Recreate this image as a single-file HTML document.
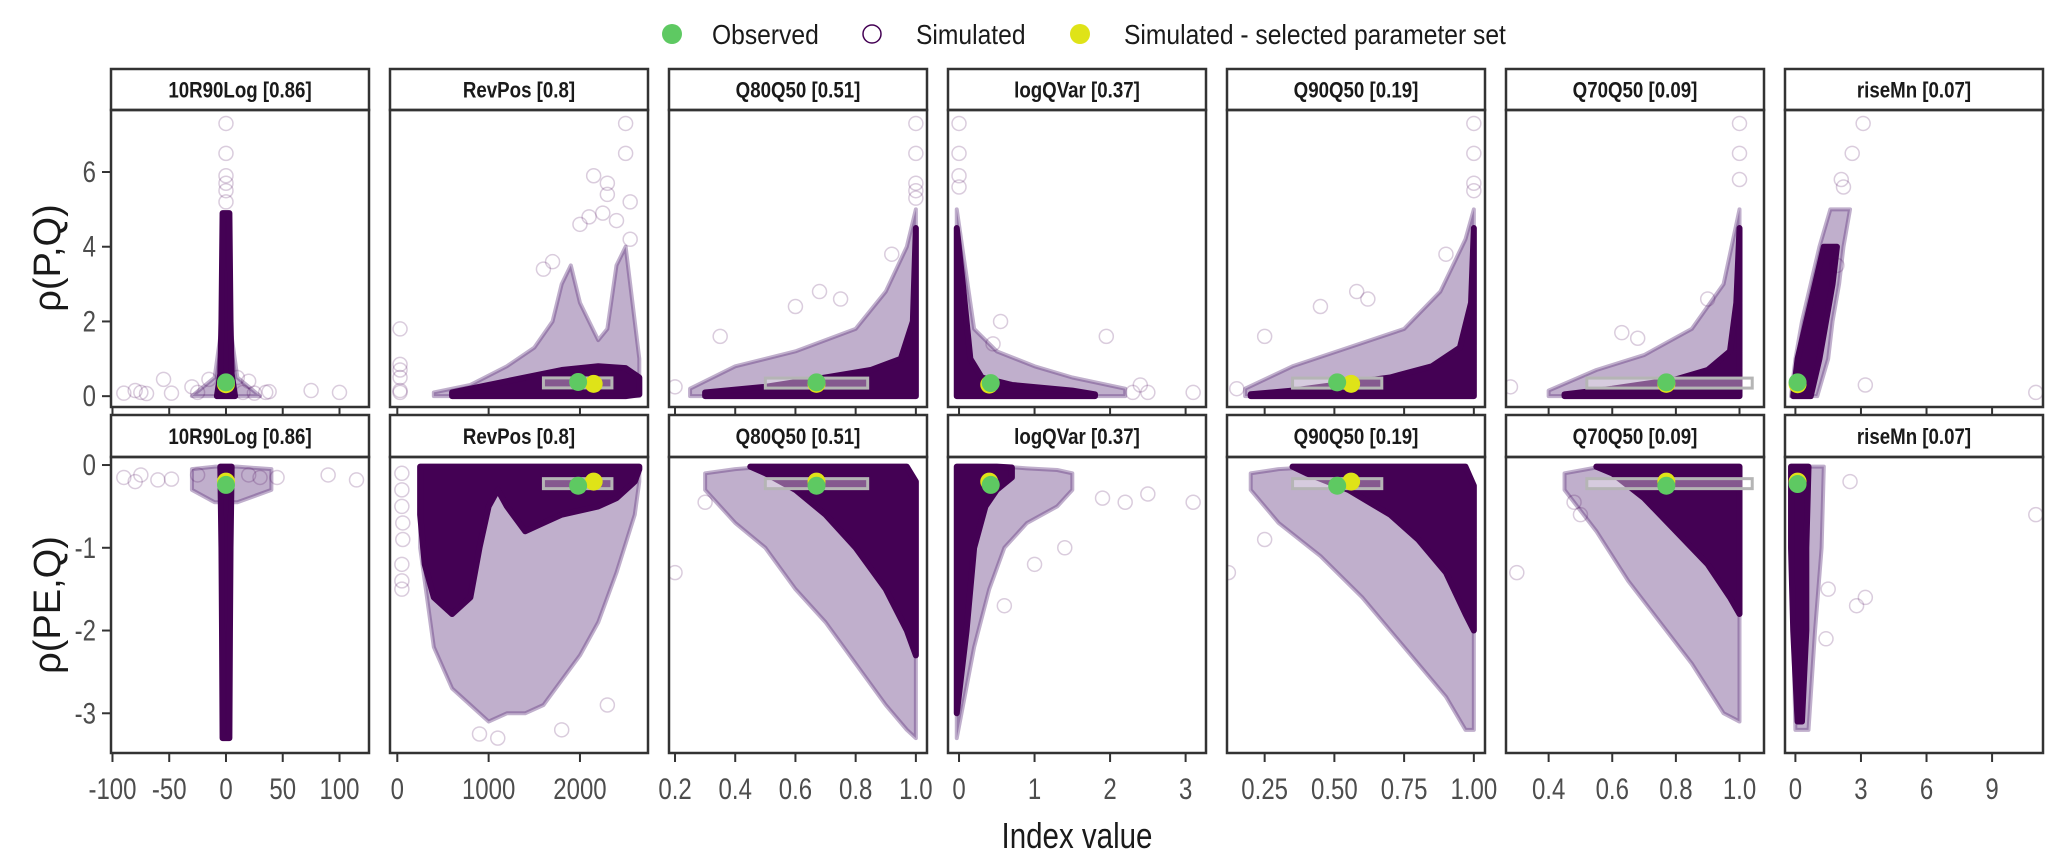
<!DOCTYPE html>
<html><head><meta charset="utf-8"><style>
html,body{margin:0;padding:0;background:#fff;}
svg{display:block;}
text{font-family:"Liberation Sans Narrow","Liberation Sans",sans-serif;}
</style></head><body>
<svg id="chart" width="2067" height="868" viewBox="0 0 2067 868" xmlns="http://www.w3.org/2000/svg">
<g>
<circle cx="672" cy="34" r="10" fill="#5ec962"/>
<text transform="translate(712,44) scale(0.88,1)" font-size="28" fill="#1a1a1a">Observed</text>
<circle cx="872" cy="34" r="9" fill="none" stroke="#440154" stroke-width="1.5"/>
<text transform="translate(916,44) scale(0.88,1)" font-size="28" fill="#1a1a1a">Simulated</text>
<circle cx="1080" cy="34" r="10" fill="#dfe318"/>
<text transform="translate(1124,44) scale(0.88,1)" font-size="28" fill="#1a1a1a">Simulated - selected parameter set</text>
</g>
<text transform="translate(60,258) rotate(-90)" text-anchor="middle" font-size="38" fill="#1a1a1a" style="font-family:'Liberation Sans',sans-serif">ρ(P,Q)</text>
<text transform="translate(60,605) rotate(-90)" text-anchor="middle" font-size="38" fill="#1a1a1a" style="font-family:'Liberation Sans',sans-serif">ρ(PE,Q)</text>
<text transform="translate(1077,848) scale(0.82,1)" text-anchor="middle" font-size="36" fill="#1a1a1a">Index value</text>
<g id="panels"></g>
</svg>
<script>
const panelNames = ["10R90Log [0.86]","RevPos [0.8]","Q80Q50 [0.51]","logQVar [0.37]","Q90Q50 [0.19]","Q70Q50 [0.09]","riseMn [0.07]"];
const xDomains = [[-101.3,126],[-80,2745],[0.18,1.037],[-0.146,3.27],[0.115,1.04],[0.266,1.077],[-0.476,11.33]];
const xTicks = [[-100,-50,0,50,100],[0,1000,2000],[0.2,0.4,0.6,0.8,1.0],[0,1,2,3],[0.25,0.5,0.75,1.0],[0.4,0.6,0.8,1.0],[0,3,6,9]];
const xTickLabels = [["-100","-50","0","50","100"],["0","1000","2000"],["0.2","0.4","0.6","0.8","1.0"],["0","1","2","3"],["0.25","0.50","0.75","1.00"],["0.4","0.6","0.8","1.0"],["0","3","6","9"]];
const yTicksTop = [0,2,4,6];
const yTicksBottom = [0,-1,-2,-3];
const yDomainTop = [-0.29,7.66];
const yDomainBottom = [-3.48,0.097];
const observedX = [0,1980,0.67,0.42,0.51,0.77,0.1];
const observedYTop = [0.37,0.38,0.37,0.35,0.37,0.37,0.37];
const observedYBottom = [-0.24,-0.25,-0.25,-0.24,-0.25,-0.25,-0.23];
const selectedX = [0,2150,0.67,0.4,0.56,0.77,0.1];
const selectedYTop = [0.32,0.33,0.33,0.31,0.33,0.33,0.32];
const selectedYBottom = [-0.2,-0.2,-0.2,-0.2,-0.2,-0.2,-0.2];
const rangeLo = [-1,1600,0.5,0.38,0.35,0.52,0.05];
const rangeHi = [1,2350,0.84,0.46,0.67,1.04,0.15];
const cloudsTop = [
 {core:{type:'y',k:[0,0.6,2,4.9],lo:[-8,-5,-4,-3],hi:[8,5,4,3]}, halo:{type:'y',k:[0,0.5,1.6],lo:[-30,-10,-5],hi:[30,10,5]},
  pts:[[0,7.3],[0,6.5],[0,5.9],[0,5.7],[0,5.5],[0,5.2],[-90,0.08],[-80,0.15],[-75,0.1],[-70,0.07],[-55,0.45],[-48,0.08],[-30,0.25],[-25,0.1],[-15,0.45],[10,0.5],[15,0.1],[20,0.4],[25,0.08],[35,0.1],[38,0.12],[75,0.15],[100,0.1]]},
 {core:{type:'x',k:[600,1000,1400,1800,2200,2500,2650],lo:[0,0,0,0,0,0,0.05],hi:[0.1,0.3,0.5,0.7,0.8,0.75,0.5]}, halo:{type:'x',k:[400,800,1200,1500,1700,1800,1900,2000,2100,2200,2300,2400,2500,2650],lo:[0,0,0,0,0,0,0,0,0,0,0,0,0,0],hi:[0.1,0.3,0.8,1.3,2.0,3.0,3.5,2.5,2.0,1.5,1.8,3.5,4.0,1.0]},
  pts:[[30,1.8],[30,0.7],[30,0.85],[30,0.15],[30,0.1],[30,0.5],[2150,5.9],[2300,5.7],[2300,5.4],[2550,5.2],[2500,7.3],[2500,6.5],[2000,4.6],[2100,4.8],[2250,4.9],[2400,4.7],[2550,4.2],[1600,3.4],[1700,3.6]]},
 {core:{type:'x',k:[0.3,0.5,0.7,0.85,0.95,0.99,1.0],lo:[0,0,0,0,0,0,0],hi:[0.1,0.25,0.5,0.7,1.0,2.0,4.5]}, halo:{type:'x',k:[0.25,0.4,0.6,0.8,0.9,0.97,1.0],lo:[0,0,0,0,0,0,0],hi:[0.2,0.8,1.2,1.8,2.8,4.0,5.0]},
  pts:[[0.2,0.25],[0.35,1.6],[0.6,2.4],[0.68,2.8],[0.75,2.6],[0.92,3.8],[1.0,5.7],[1.0,6.5],[1.0,7.3],[1.0,5.5],[1.0,5.3]]},
 {core:{type:'x',k:[-0.03,0.05,0.15,0.3,0.7,1.5,1.8],lo:[0,0,0,0,0,0,0],hi:[4.5,3.0,1.0,0.5,0.3,0.15,0.05]}, halo:{type:'x',k:[-0.03,0.2,0.5,1.0,1.5,2.2],lo:[0,0,0,0,0,0],hi:[5.0,1.8,1.2,0.8,0.5,0.2]},
  pts:[[0,7.3],[0,6.5],[0,5.9],[0,5.6],[0.55,2.0],[0.45,1.4],[1.95,1.6],[2.4,0.3],[2.5,0.1],[3.1,0.1],[2.3,0.1]]},
 {core:{type:'x',k:[0.2,0.35,0.5,0.7,0.85,0.95,0.99,1.0],lo:[0,0,0,0,0,0,0,0],hi:[0.05,0.15,0.3,0.5,0.8,1.3,2.5,4.5]}, halo:{type:'x',k:[0.18,0.35,0.55,0.75,0.88,0.97,1.0],lo:[0,0,0,0,0,0,0],hi:[0.2,0.8,1.3,1.8,2.8,4.2,5.0]},
  pts:[[0.15,0.2],[0.25,1.6],[0.45,2.4],[0.58,2.8],[0.62,2.6],[0.9,3.8],[1.0,5.7],[1.0,6.5],[1.0,7.3],[1.0,5.5]]},
 {core:{type:'x',k:[0.45,0.6,0.8,0.9,0.97,0.99,1.0],lo:[0,0,0,0,0,0,0],hi:[0.05,0.2,0.45,0.7,1.2,2.5,4.5]}, halo:{type:'x',k:[0.4,0.55,0.7,0.85,0.95,1.0],lo:[0,0,0,0,0,0],hi:[0.15,0.7,1.1,1.8,3.0,5.0]},
  pts:[[0.28,0.25],[0.63,1.7],[0.68,1.55],[1.0,7.3],[1.0,6.5],[1.0,5.8],[0.9,2.6]]},
 {core:{type:'y',k:[0,1,2,3,4],lo:[-0.1,0.1,0.5,0.9,1.3],hi:[0.7,1.1,1.4,1.7,1.9]}, halo:{type:'y',k:[0,1,2,3,4,5],lo:[-0.2,0,0.3,0.7,1.1,1.6],hi:[1.0,1.5,1.7,2.0,2.2,2.5]},
  pts:[[3.1,7.3],[2.6,6.5],[2.1,5.8],[2.2,5.6],[3.2,0.3],[11,0.1],[1.9,3.5]]}
];
const cloudsBottom = [
 {core:{type:'y',k:[-0.02,-1,-2,-3.3],lo:[-5,-4,-3.5,-3],hi:[5,4,3.5,3]}, halo:{type:'x',k:[-30,-10,10,40],lo:[-0.3,-0.45,-0.45,-0.3],hi:[-0.05,-0.02,-0.02,-0.05]},
  pts:[[-90,-0.15],[-80,-0.2],[-75,-0.12],[-60,-0.18],[-48,-0.17],[-25,-0.12],[20,-0.12],[30,-0.15],[45,-0.15],[90,-0.12],[115,-0.18]]},
 {core:{type:'x',k:[250,300,400,600,800,900,1000,1100,1200,1400,1600,1800,2000,2200,2400,2600,2650],lo:[-0.6,-1.2,-1.6,-1.8,-1.6,-1.0,-0.5,-0.3,-0.5,-0.8,-0.7,-0.6,-0.55,-0.5,-0.4,-0.2,-0.05],hi:[-0.02,-0.02,-0.02,-0.02,-0.02,-0.02,-0.02,-0.02,-0.02,-0.02,-0.02,-0.02,-0.02,-0.02,-0.02,-0.02,-0.02]},
  halo:{type:'x',k:[250,400,600,800,1000,1200,1400,1600,1800,2000,2200,2400,2600,2650],lo:[-1.0,-2.2,-2.7,-2.9,-3.1,-3.0,-3.0,-2.9,-2.6,-2.3,-1.9,-1.3,-0.6,-0.2],hi:[-0.02,-0.02,-0.02,-0.02,-0.02,-0.02,-0.02,-0.02,-0.02,-0.02,-0.02,-0.02,-0.02,-0.02]},
  pts:[[50,-0.1],[50,-0.3],[50,-0.5],[60,-0.7],[60,-0.9],[50,-1.2],[50,-1.4],[50,-1.5],[900,-3.25],[1100,-3.3],[1800,-3.2],[2300,-2.9]]},
 {core:{type:'x',k:[0.45,0.5,0.6,0.7,0.8,0.9,0.97,1.0],lo:[-0.02,-0.1,-0.3,-0.6,-1.0,-1.5,-2.0,-2.3],hi:[-0.02,-0.02,-0.02,-0.02,-0.02,-0.02,-0.02,-0.2]},
  halo:{type:'x',k:[0.3,0.4,0.5,0.6,0.7,0.8,0.9,0.97,1.0],lo:[-0.3,-0.7,-1.0,-1.5,-1.9,-2.4,-2.9,-3.2,-3.3],hi:[-0.1,-0.05,-0.02,-0.02,-0.02,-0.02,-0.02,-0.02,-0.2]},
  pts:[[0.2,-1.3],[0.3,-0.45]]},
 {core:{type:'x',k:[-0.03,0.1,0.2,0.35,0.5,0.7],lo:[-3.0,-2.0,-1.0,-0.5,-0.3,-0.15],hi:[-0.02,-0.02,-0.02,-0.02,-0.02,-0.03]},
  halo:{type:'x',k:[-0.03,0.2,0.4,0.6,0.9,1.3,1.5],lo:[-3.3,-2.2,-1.5,-1.0,-0.7,-0.5,-0.3],hi:[-0.02,-0.02,-0.02,-0.02,-0.04,-0.06,-0.1]},
  pts:[[1.9,-0.4],[2.2,-0.45],[2.5,-0.35],[3.1,-0.45],[1.4,-1.0],[1.0,-1.2],[0.6,-1.7]]},
 {core:{type:'x',k:[0.35,0.4,0.55,0.7,0.8,0.9,0.97,1.0],lo:[-0.02,-0.1,-0.3,-0.6,-0.9,-1.3,-1.8,-2.0],hi:[-0.02,-0.02,-0.02,-0.02,-0.02,-0.02,-0.02,-0.25]},
  halo:{type:'x',k:[0.2,0.3,0.45,0.6,0.75,0.9,0.97,1.0],lo:[-0.3,-0.7,-1.1,-1.6,-2.2,-2.8,-3.2,-3.2],hi:[-0.1,-0.05,-0.02,-0.02,-0.02,-0.02,-0.02,-0.25]},
  pts:[[0.12,-1.3],[0.25,-0.9]]},
 {core:{type:'x',k:[0.55,0.6,0.7,0.8,0.9,0.97,1.0],lo:[-0.02,-0.1,-0.4,-0.8,-1.2,-1.6,-1.8],hi:[-0.02,-0.02,-0.02,-0.02,-0.02,-0.02,-0.02]},
  halo:{type:'x',k:[0.45,0.55,0.65,0.75,0.85,0.95,1.0],lo:[-0.3,-0.8,-1.4,-1.9,-2.4,-3.0,-3.1],hi:[-0.1,-0.03,-0.02,-0.02,-0.02,-0.02,-0.02]},
  pts:[[0.3,-1.3],[0.48,-0.45],[0.5,-0.6]]},
 {core:{type:'y',k:[-0.02,-1,-2,-3.1],lo:[-0.2,-0.2,-0.1,0.1],hi:[0.6,0.5,0.5,0.3]}, halo:{type:'y',k:[-0.02,-1,-2,-3.2],lo:[-0.2,-0.2,-0.1,0.0],hi:[1.3,1.2,0.9,0.6]},
  pts:[[2.5,-0.2],[11,-0.6],[3.2,-1.6],[2.8,-1.7],[1.5,-1.5],[1.4,-2.1]]}
];
const NS="http://www.w3.org/2000/svg";
const root=document.getElementById('panels');
function mk(tag,attrs,parent){const e=document.createElementNS(NS,tag);for(const k in attrs)e.setAttribute(k,attrs[k]);(parent||root).appendChild(e);return e;}
const PX0=111, PSTEP=279, PW=258;
const rows=[{stripTop:69,top:110,bot:407,dom:yDomainTop,ticks:yTicksTop,clouds:cloudsTop,oy:observedYTop,sy:selectedYTop,name:'top'},
            {stripTop:415,top:457,bot:753,dom:yDomainBottom,ticks:yTicksBottom,clouds:cloudsBottom,oy:observedYBottom,sy:selectedYBottom,name:'bottom'}];
const defs=mk('defs',{});
rows.forEach((row,ri)=>{
  const ys=v=>row.bot-(v-row.dom[0])/(row.dom[1]-row.dom[0])*(row.bot-row.top);
  row.ticks.forEach(t=>{
    const l=mk('line',{x1:102,x2:111,y1:ys(t),y2:ys(t),stroke:'#333','stroke-width':2});
    
    
    const tx=mk('text',{transform:'translate(96,'+(ys(t)+10)+') scale(0.8,1)','text-anchor':'end','font-size':30,fill:'#4d4d4d'});
    
    
    tx.textContent=String(t);
  });
  panelNames.forEach((nm,pi)=>{
    const x0=PX0+pi*PSTEP;
    const dom=xDomains[pi];
    const xs=v=>x0+(v-dom[0])/(dom[1]-dom[0])*PW;
    const g=mk('g',{});
    
    
    const cid='clip'+ri+'_'+pi;
    const cp=mk('clipPath',{id:cid},defs);
    mk('rect',{x:x0,y:row.top,width:PW,height:row.bot-row.top},cp);
    const strip=mk('rect',{x:x0,y:row.stripTop,width:PW,height:row.top-row.stripTop,fill:'#fff',stroke:'#333','stroke-width':2.5},g);
    
    
    const st=mk('text',{transform:'translate('+(x0+PW/2)+','+(row.stripTop+(row.top-row.stripTop)/2+8)+') scale(0.85,1)','text-anchor':'middle','font-size':22,'font-weight':'bold',fill:'#1a1a1a'},g);
    
    
    st.textContent=nm;
    const mg=mk('g',{'clip-path':'url(#'+cid+')'},g);
    const cl=row.clouds[pi];
    function poly(c,fill,op,sw,name){
      let pts=[];
      if(c.type==='x'){
        for(let i=0;i<c.k.length;i++)pts.push([xs(c.k[i]),ys(c.hi[i])]);
        for(let i=c.k.length-1;i>=0;i--)pts.push([xs(c.k[i]),ys(c.lo[i])]);
      }else{
        for(let i=0;i<c.k.length;i++)pts.push([xs(c.hi[i]),ys(c.k[i])]);
        for(let i=c.k.length-1;i>=0;i--)pts.push([xs(c.lo[i]),ys(c.k[i])]);
      }
      const p=mk('polygon',{points:pts.map(q=>q.join(',')).join(' '),fill:fill,'fill-opacity':op,stroke:fill,'stroke-opacity':op,'stroke-width':sw,'stroke-linejoin':'round'},mg);
      
      
    }
    poly(cl.halo,'#5a2d78',0.38,4,'simulated-cloud-sparse');
    poly(cl.core,'#440154',1,6,'simulated-cloud-dense');
    cl.pts.forEach(pt=>{
      const c=mk('circle',{cx:xs(pt[0]),cy:ys(pt[1]),r:7,fill:'none',stroke:'#440154','stroke-opacity':0.2,'stroke-width':1.5},mg);
      
      
    });
    const ry=ys((row.oy[pi]+row.sy[pi])/2);
    const rb=mk('rect',{x:xs(rangeLo[pi]),y:ry-5,width:Math.max(0,xs(rangeHi[pi])-xs(rangeLo[pi])),height:10,fill:'#fff','fill-opacity':0.35,stroke:'#b5b5b5','stroke-width':3},mg);
    
    
    const sc=mk('circle',{cx:xs(selectedX[pi]),cy:ys(row.sy[pi]),r:9,fill:'#dfe318'},mg);
    
    
    const oc=mk('circle',{cx:xs(observedX[pi]),cy:ys(row.oy[pi]),r:9,fill:'#5ec962'},mg);
    
    
    const fr=mk('rect',{x:x0,y:row.top,width:PW,height:row.bot-row.top,fill:'none',stroke:'#333','stroke-width':2.5},g);
    
    
    xTicks[pi].forEach((t,ti)=>{
      const l=mk('line',{x1:xs(t),x2:xs(t),y1:row.bot,y2:row.bot+9,stroke:'#333','stroke-width':2},g);
      
      
      if(ri===1){
        const tx=mk('text',{transform:'translate('+xs(t)+','+(row.bot+46)+') scale(0.8,1)','text-anchor':'middle','font-size':30,fill:'#4d4d4d'},g);
        
        
        tx.textContent=xTickLabels[pi][ti];
      }
    });
  });
});
</script>
</body></html>
